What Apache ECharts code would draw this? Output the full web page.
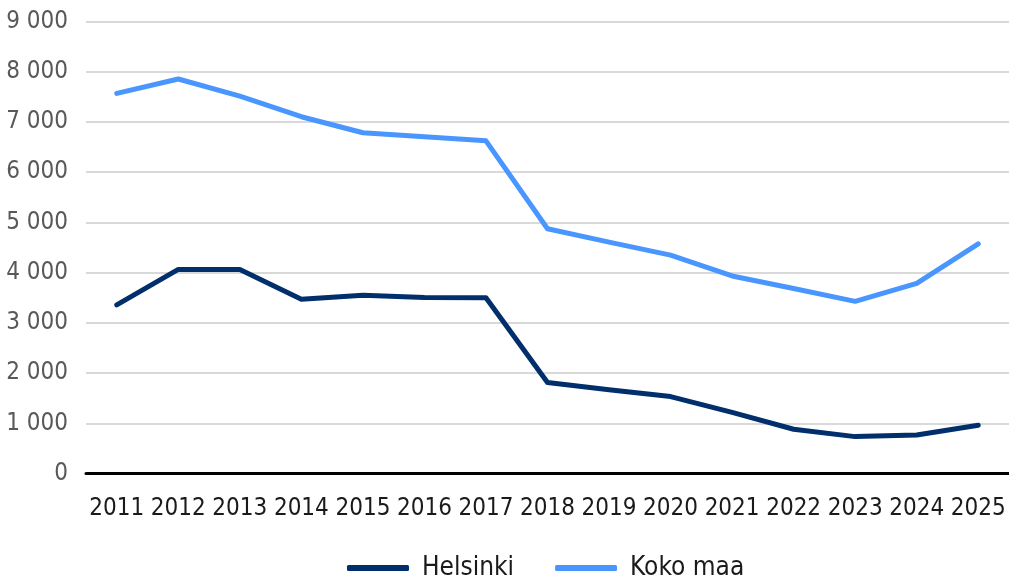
<!DOCTYPE html>
<html lang="fi">
<head>
    <meta charset="UTF-8">
    <title>Helsinki / Koko maa</title>
    <script src="https://cdn.jsdelivr.net/npm/echarts@6/dist/echarts.min.js"></script>
    <style>
        body { margin: 0; background: #fff; }
        #chart { width: 1009px; height: 578px; }
    </style>
</head>
<body>
<div id="chart"></div>
<script>
    // vuodet
    var years = ['2011', '2012', '2013', '2014', '2015', '2016', '2017', '2018',
        '2019', '2020', '2021', '2022', '2023', '2024', '2025'];
    var helsinki = [3360, 4065, 4065, 3470, 3550, 3505, 3500, 1815, 1670, 1535, 1220, 885, 738, 772, 965];
    var kokoMaa = [7570, 7855, 7515, 7105, 6785, 6705, 6625, 4875, 4610, 4350, 3935, 3685, 3430, 3790, 4575];
    var seriesNames = ['Helsinki', 'Koko maa'];

    var font = "'Liberation Sans Narrow', 'DejaVu Sans Condensed', 'Open Sans', sans-serif";

    var myChart = echarts.init(document.getElementById('chart'));
    var option = {
        animation: false,
        textStyle: { fontFamily: font },
        grid: { left: 86, right: -4, top: 21.5, bottom: 104.3, containLabel: false },
        legend: {
            top: 549,
            left: 342,
            itemWidth: 62,
            itemHeight: 6,
            itemGap: 41,
            icon: 'roundRect',
            data: seriesNames,
            textStyle: { fontSize: 26, lineHeight: 28, color: '#1a1a1a', fontFamily: font, padding: [0, 0, 0, 8] }
        },
        xAxis: {
            type: 'category',
            data: years,
            boundaryGap: true,
            axisLine: { lineStyle: { color: '#000', width: 3 } },
            axisTick: { show: false },
            axisLabel: { fontSize: 24, color: '#1a1a1a', margin: 23, fontFamily: font, interval: 0 }
        },
        yAxis: {
            type: 'value',
            min: 0,
            max: 9000,
            interval: 1000,
            axisLine: { show: false },
            axisTick: { show: false },
            splitLine: { lineStyle: { color: '#d9d9d9', width: 2 } },
            axisLabel: {
                fontSize: 24,
                color: '#595959',
                margin: 18,
                fontFamily: font,
                formatter: function (v) {
                    return String(v).replace(/\B(?=(\d{3})+(?!\d))/g, ' ');
                }
            }
        },
        series: [
            {
                name: seriesNames[0],
                type: 'line',
                data: helsinki,
                showSymbol: false,
                symbol: 'none',
                lineStyle: { color: '#002f6c', width: 5, cap: 'round', join: 'round' },
                itemStyle: { color: '#002f6c' }
            },
            {
                name: seriesNames[1],
                type: 'line',
                data: kokoMaa,
                showSymbol: false,
                symbol: 'none',
                lineStyle: { color: '#4a96ff', width: 5, cap: 'round', join: 'round' },
                itemStyle: { color: '#4a96ff' }
            }
        ]
    };
    myChart.setOption(option);
</script>
</body>
</html>
